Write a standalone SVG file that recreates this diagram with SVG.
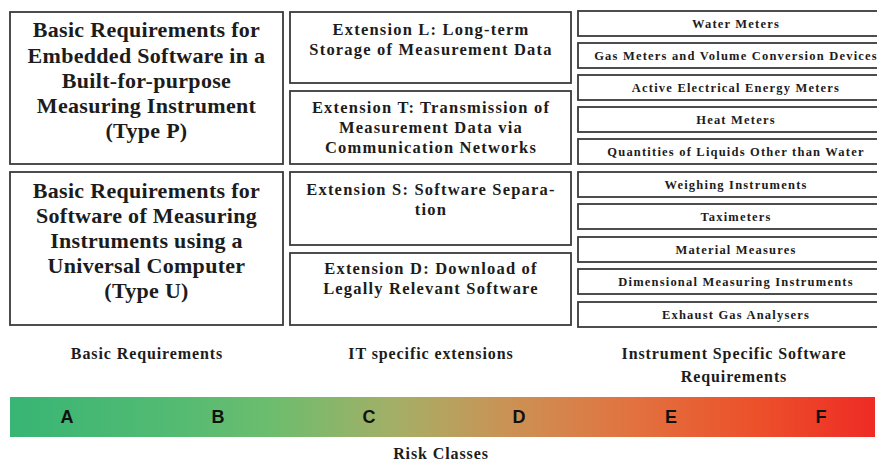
<svg xmlns="http://www.w3.org/2000/svg" width="877" height="461" viewBox="0 0 877 461">
<defs>
<linearGradient id="risk" x1="0" y1="0" x2="1" y2="0">
<stop offset="0" stop-color="#38b574"/>
<stop offset="0.2" stop-color="#55bb72"/>
<stop offset="0.3" stop-color="#6cbd6e"/>
<stop offset="0.45" stop-color="#a6ae66"/>
<stop offset="0.58" stop-color="#cc9154"/>
<stop offset="0.72" stop-color="#e2723f"/>
<stop offset="0.86" stop-color="#ec512b"/>
<stop offset="1" stop-color="#ee2b24"/>
</linearGradient>
</defs>
<style>
.box{fill:#fff;stroke:#3a3a3a;stroke-width:1.8}
.t{font-family:"Liberation Serif","Times New Roman",serif;font-weight:bold;fill:#1c1c1c;text-anchor:middle}
.big{font-size:22px;letter-spacing:0.3px}
.mid{font-size:16.5px;letter-spacing:1.2px}
.sm{font-size:12.5px;letter-spacing:1.2px}
.lab{font-size:16px;letter-spacing:0.9px}
.rc{font-family:"Liberation Sans",Arial,sans-serif;font-weight:bold;font-size:18px;fill:#111;text-anchor:middle}
</style>
<rect width="877" height="461" fill="#fff"/>
<g id="typeP"><rect class="box" x="10" y="12" width="273" height="152"/>
<text class="t big" x="146.5" y="37">Basic Requirements for</text>
<text class="t big" x="146.5" y="62.5">Embedded Software in a</text>
<text class="t big" x="146.5" y="88">Built-for-purpose</text>
<text class="t big" x="146.5" y="113">Measuring Instrument</text>
<text class="t big" x="146.5" y="138">(Type P)</text></g>
<g id="typeU"><rect class="box" x="10" y="172" width="273" height="153"/>
<text class="t big" x="146.5" y="198">Basic Requirements for</text>
<text class="t big" x="146.5" y="223">Software of Measuring</text>
<text class="t big" x="146.5" y="248">Instruments using a</text>
<text class="t big" x="146.5" y="273">Universal Computer</text>
<text class="t big" x="146.5" y="298">(Type U)</text></g>
<g id="extL"><rect class="box" x="290" y="12" width="281" height="71"/>
<text class="t mid" x="431" y="35">Extension L: Long-term</text>
<text class="t mid" x="431" y="55">Storage of Measurement Data</text></g>
<g id="extT"><rect class="box" x="290" y="91" width="281" height="73"/>
<text class="t mid" x="431" y="113">Extension T: Transmission of</text>
<text class="t mid" x="431" y="133">Measurement Data via</text>
<text class="t mid" x="431" y="153">Communication Networks</text></g>
<g id="extS"><rect class="box" x="290" y="172" width="281" height="73"/>
<text class="t mid" x="431" y="195">Extension S: Software Separa-</text>
<text class="t mid" x="431" y="215">tion</text></g>
<g id="extD"><rect class="box" x="290" y="253" width="281" height="72"/>
<text class="t mid" x="431" y="274">Extension D: Download of</text>
<text class="t mid" x="431" y="294">Legally Relevant Software</text></g>
<g id="water"><rect class="box" x="578" y="11" width="316" height="25"/><text class="t sm" x="736" y="28">Water Meters</text></g>
<g id="gas"><rect class="box" x="578" y="43" width="316" height="25"/><text class="t sm" x="736" y="60">Gas Meters and Volume Conversion Devices</text></g>
<g id="elec"><rect class="box" x="578" y="75" width="316" height="25"/><text class="t sm" x="736" y="92">Active Electrical Energy Meters</text></g>
<g id="heat"><rect class="box" x="578" y="107" width="316" height="25"/><text class="t sm" x="736" y="124">Heat Meters</text></g>
<g id="liquids"><rect class="box" x="578" y="139" width="316" height="25"/><text class="t sm" x="736" y="156">Quantities of Liquids Other than Water</text></g>
<g id="weighing"><rect class="box" x="578" y="172" width="316" height="25"/><text class="t sm" x="736" y="189">Weighing Instruments</text></g>
<g id="taxi"><rect class="box" x="578" y="204" width="316" height="25"/><text class="t sm" x="736" y="221">Taximeters</text></g>
<g id="material"><rect class="box" x="578" y="237" width="316" height="25"/><text class="t sm" x="736" y="254">Material Measures</text></g>
<g id="dimensional"><rect class="box" x="578" y="269" width="316" height="25"/><text class="t sm" x="736" y="286">Dimensional Measuring Instruments</text></g>
<g id="exhaust"><rect class="box" x="578" y="302" width="316" height="25"/><text class="t sm" x="736" y="319">Exhaust Gas Analysers</text></g>
<g id="labels">
<text class="t lab" x="147" y="359">Basic Requirements</text>
<text class="t lab" x="431" y="359">IT specific extensions</text>
<text class="t lab" x="734" y="359">Instrument Specific Software</text>
<text class="t lab" x="734" y="382">Requirements</text>
<text class="t lab" x="441" y="459">Risk Classes</text>
</g>
<g id="riskbar">
<rect x="10" y="397" width="865" height="40" fill="url(#risk)"/>
<text class="rc" x="67" y="423">A</text>
<text class="rc" x="218" y="423">B</text>
<text class="rc" x="369" y="423">C</text>
<text class="rc" x="519" y="423">D</text>
<text class="rc" x="671" y="423">E</text>
<text class="rc" x="821" y="423">F</text>
</g>
<g id="connectors"></g>
</svg>
